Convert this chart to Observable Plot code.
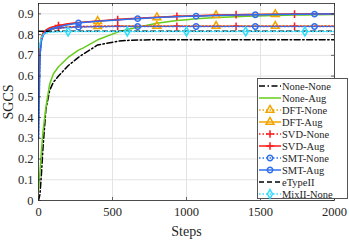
<!DOCTYPE html>
<html><head><meta charset="utf-8">
<script src="https://cdn.jsdelivr.net/npm/d3@7"></script>
<script src="https://cdn.jsdelivr.net/npm/@observablehq/plot@0.6"></script>
<style>
html,body{margin:0;padding:0;background:#fff;}
#wrap{position:relative;width:349px;height:241px;}
#legend{position:absolute;left:257px;top:78px;width:91px;height:121px;box-sizing:border-box;border:1px solid #555;background:#fff;font-family:"Liberation Serif",serif;font-size:10.5px;color:#262626;padding-top:1px;}
.row{height:12px;display:flex;align-items:center;white-space:nowrap;}
.row svg{width:24px;height:12px;flex:none;}
</style></head>
<body><div id="wrap"><div id="legend"></div></div>
<script>
const steps = [0, 10, 20, 30, 50, 75, 100, 135, 200, 270, 300, 400, 535, 600, 670, 800, 935, 1000, 1065, 1200, 1335, 1400, 1465, 1600, 1730, 1800, 1865, 2000];

const noneNone = [0.0, 0.03, 0.13, 0.25, 0.44, 0.53, 0.57, 0.6, 0.65, 0.69, 0.705, 0.75, 0.768, 0.772, 0.774, 0.775, 0.775, 0.775, 0.775, 0.775, 0.775, 0.775, 0.775, 0.775, 0.775, 0.775, 0.775, 0.775];
const noneAug  = [0.05, 0.14, 0.24, 0.33, 0.45, 0.56, 0.61, 0.645, 0.69, 0.725, 0.735, 0.775, 0.812, 0.825, 0.835, 0.855, 0.868, 0.872, 0.876, 0.882, 0.886, 0.888, 0.89, 0.892, 0.894, 0.895, 0.896, 0.897];
const dftNone  = [0.55, 0.73, 0.785, 0.803, 0.817, 0.825, 0.829, 0.833, 0.836, 0.838, 0.839, 0.84, 0.841, 0.841, 0.841, 0.841, 0.841, 0.841, 0.841, 0.841, 0.841, 0.841, 0.841, 0.841, 0.841, 0.841, 0.841, 0.841];
const dftAug   = [0.55, 0.74, 0.79, 0.808, 0.822, 0.832, 0.838, 0.843, 0.851, 0.857, 0.859, 0.865, 0.872, 0.875, 0.878, 0.883, 0.887, 0.889, 0.89, 0.893, 0.895, 0.896, 0.897, 0.898, 0.898, 0.899, 0.899, 0.9];
const svdNone  = [0.5, 0.72, 0.78, 0.8, 0.815, 0.824, 0.829, 0.833, 0.836, 0.838, 0.839, 0.84, 0.84, 0.84, 0.84, 0.84, 0.84, 0.84, 0.84, 0.84, 0.84, 0.84, 0.84, 0.84, 0.84, 0.84, 0.84, 0.84];
const svdAug   = [0.5, 0.73, 0.785, 0.806, 0.822, 0.832, 0.838, 0.844, 0.852, 0.858, 0.86, 0.866, 0.873, 0.876, 0.879, 0.884, 0.888, 0.89, 0.891, 0.894, 0.896, 0.897, 0.897, 0.898, 0.899, 0.899, 0.9, 0.9];
const smtNone  = [0.3, 0.7, 0.77, 0.795, 0.812, 0.822, 0.827, 0.831, 0.834, 0.836, 0.837, 0.838, 0.839, 0.839, 0.839, 0.839, 0.839, 0.839, 0.839, 0.839, 0.839, 0.839, 0.839, 0.839, 0.839, 0.839, 0.839, 0.839];
const smtAug   = [0.3, 0.7, 0.77, 0.795, 0.815, 0.826, 0.832, 0.838, 0.848, 0.856, 0.858, 0.864, 0.871, 0.874, 0.877, 0.882, 0.886, 0.888, 0.889, 0.892, 0.894, 0.895, 0.896, 0.897, 0.898, 0.898, 0.899, 0.899];
const eTypeII  = [0.816, 0.816, 0.816, 0.816, 0.816, 0.816, 0.816, 0.816, 0.816, 0.816, 0.816, 0.816, 0.816, 0.816, 0.816, 0.816, 0.816, 0.816, 0.816, 0.816, 0.816, 0.816, 0.816, 0.816, 0.816, 0.816, 0.816, 0.816];
const mixNone  = [0.72, 0.76, 0.785, 0.8, 0.808, 0.811, 0.812, 0.814, 0.815, 0.815, 0.815, 0.815, 0.815, 0.815, 0.815, 0.815, 0.815, 0.815, 0.815, 0.815, 0.815, 0.815, 0.815, 0.815, 0.815, 0.815, 0.815, 0.815];

const dftMarkSteps = [400, 800, 1200, 1600];
const svdMarkSteps = [135, 535, 935, 1335, 1730];
const smtMarkSteps = [270, 670, 1065, 1465, 1865];
const mixMarkSteps = [200, 600, 1000, 1400, 1800];

const xTicks = [0, 500, 1000, 1500, 2000];
const yTicks = [0, 0.1, 0.2, 0.3, 0.4, 0.5, 0.6, 0.7, 0.8, 0.9];

const ORANGE = "#f0a500", RED = "#ff1a1a", BLUE = "#2f6ff0", CYAN = "#33ddff", GREEN = "#66cc1a";
const DOT = "1.5,2", DASHDOT = "6,2.5,1.5,2.5", DASH = "5,3";

const series = [
  {name: "None-None", v: noneNone, color: "#000", dash: DASHDOT, sym: null, ms: []},
  {name: "None-Aug", v: noneAug, color: GREEN, dash: null, sym: null, ms: []},
  {name: "DFT-None", v: dftNone, color: ORANGE, dash: DOT, sym: "triangle", ms: dftMarkSteps},
  {name: "DFT-Aug", v: dftAug, color: ORANGE, dash: null, sym: "triangle", ms: dftMarkSteps},
  {name: "SVD-None", v: svdNone, color: RED, dash: DOT, sym: "plus", ms: svdMarkSteps},
  {name: "SVD-Aug", v: svdAug, color: RED, dash: null, sym: "plus", ms: svdMarkSteps},
  {name: "SMT-None", v: smtNone, color: BLUE, dash: DOT, sym: "circle", ms: smtMarkSteps},
  {name: "SMT-Aug", v: smtAug, color: BLUE, dash: null, sym: "circle", ms: smtMarkSteps},
  {name: "eTypeII", v: eTypeII, color: "#000", dash: DASH, sym: null, ms: []},
  {name: "MixII-None", v: mixNone, color: CYAN, dash: DOT, sym: "diamond", ms: mixMarkSteps}
];
const symR = {triangle: 2.9, plus: 2.6, circle: 2.7, diamond: 2.7};

const marks = [
  Plot.gridX(xTicks, {stroke: "#e3e3e3", strokeOpacity: 1}),
  Plot.gridY(yTicks, {stroke: "#e3e3e3", strokeOpacity: 1})
];
for (const s of series) {
  const rows = steps.map((x, i) => ({x, y: s.v[i]}));
  marks.push(Plot.line(rows, {x: "x", y: "y", stroke: s.color, strokeWidth: 1.5, strokeDasharray: s.dash || undefined, clip: true}));
  if (s.sym) {
    const pts = s.ms.map(m => ({x: m, y: s.v[steps.indexOf(m)]}));
    marks.push(Plot.dot(pts, {x: "x", y: "y", symbol: () => s.sym, r: symR[s.sym], stroke: s.color, strokeWidth: 1.5, fill: "none"}));
  }
}
marks.push(
  Plot.tickX(xTicks, {x: d => d, insetTop: 194, stroke: "#262626", strokeWidth: 0.7}),
  Plot.tickX(xTicks, {x: d => d, insetBottom: 194, stroke: "#262626", strokeWidth: 0.7}),
  Plot.tickY(yTicks, {y: d => d, insetRight: 293, stroke: "#262626", strokeWidth: 0.7}),
  Plot.tickY(yTicks, {y: d => d, insetLeft: 293, stroke: "#262626", strokeWidth: 0.7}),
  Plot.frame({stroke: "#262626", strokeWidth: 0.8}),
  Plot.axisX(xTicks, {tickSize: 0, tickPadding: 7, fontSize: 12.5, label: null, tickFormat: d => String(d)}),
  Plot.axisY(yTicks, {tickSize: 0, tickPadding: 5, fontSize: 12.5, label: null, tickFormat: d => d === 0 ? "0" : d.toFixed(1)}),
  Plot.text(["Steps"], {frameAnchor: "bottom", dy: 31, fontSize: 14, lineAnchor: "middle", fill: "#262626"}),
  Plot.text(["SGCS"], {frameAnchor: "left", dx: -30, rotate: -90, fontSize: 14, textAnchor: "middle", lineAnchor: "middle", fill: "#262626"})
);

const chart = Plot.plot({
  width: 349, height: 241,
  marginLeft: 38, marginRight: 15, marginTop: 3, marginBottom: 41,
  style: {fontFamily: "Liberation Serif", background: "white", color: "#262626", overflow: "visible"},
  x: {domain: [0, 2000]},
  y: {domain: [0, 0.95]},
  marks
});
document.getElementById("wrap").insertBefore(chart, document.getElementById("legend"));

// legend
const leg = d3.select("#legend");
for (const s of series) {
  const row = leg.append("div").attr("class", "row");
  const svg = row.append("svg").attr("viewBox", "0 0 24 12");
  svg.append("line").attr("x1", 1).attr("x2", 23).attr("y1", 6).attr("y2", 6)
    .attr("stroke", s.color).attr("stroke-width", 1.5).attr("stroke-dasharray", s.dash || null);
  if (s.sym) {
    const t = {triangle: d3.symbolTriangle, plus: d3.symbolPlus, circle: d3.symbolCircle, diamond: d3.symbolDiamond}[s.sym];
    const r = symR[s.sym];
    svg.append("path").attr("transform", "translate(12,6)")
      .attr("d", d3.symbol(t, Math.PI * r * r)())
      .attr("fill", "none").attr("stroke", s.color).attr("stroke-width", 1.5);
  }
  row.append("span").text(s.name);
}
</script></body></html>
